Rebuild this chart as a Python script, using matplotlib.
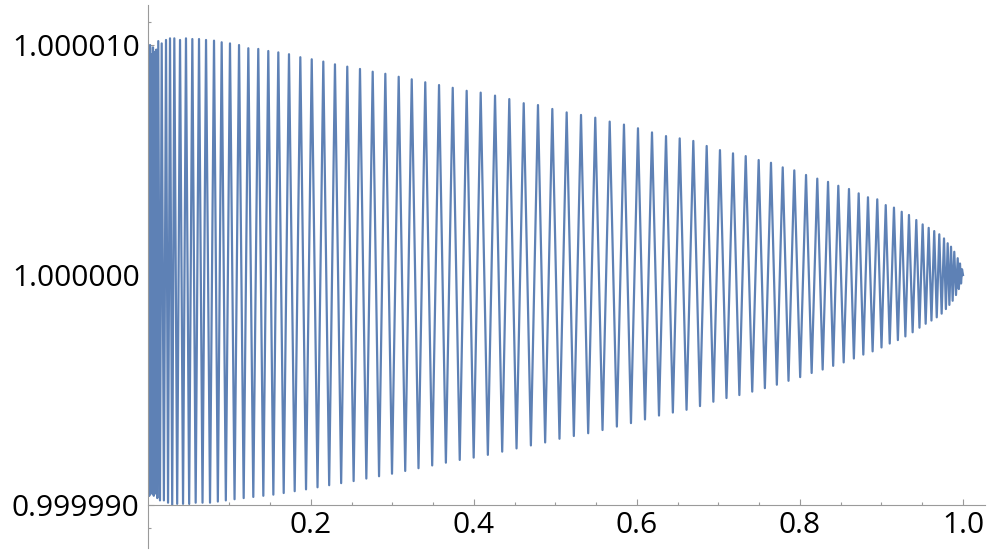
import numpy as np
from matplotlib import pyplot as plt
from matplotlib.ticker import FixedLocator, FuncFormatter

# x positions of the local maxima and minima
max_x = [0.0006, 0.0025, 0.0043, 0.0061, 0.0080, 0.0102, 0.0126, 0.0168, 0.0221, 0.0270,
         0.0323, 0.0393, 0.0466, 0.0544, 0.0626, 0.0712, 0.0810, 0.0904, 0.1006, 0.1117,
         0.1231, 0.1353, 0.1476, 0.1599, 0.1730, 0.1869, 0.2009, 0.2151, 0.2294, 0.2445,
         0.2601, 0.2757, 0.2912, 0.3076, 0.3236, 0.3402, 0.3571, 0.3739, 0.3910, 0.4082,
         0.4258, 0.4433, 0.4610, 0.4785, 0.4961, 0.5137, 0.5313, 0.5488, 0.5665, 0.5840,
         0.6012, 0.6184, 0.6356, 0.6524, 0.6691, 0.6855, 0.7018, 0.7178, 0.7334, 0.7493,
         0.7644, 0.7788, 0.7930, 0.8074, 0.8212, 0.8344, 0.8470, 0.8601, 0.8720, 0.8834,
         0.8948, 0.9052, 0.9153, 0.9248, 0.9337, 0.9427, 0.9505, 0.9579, 0.9647, 0.9709,
         0.9767, 0.9812, 0.9853, 0.9893, 0.9935, 0.9963, 0.9988]
# height of each maximum above 1, in units of 1e-5
max_amp = [0.97, 1.00, 0.96, 0.99, 0.97, 0.98, 1.017, 1.007, 1.022, 1.029,
           1.029, 1.022, 1.029, 1.026, 1.026, 1.022, 1.019, 1.012, 1.007, 1.000,
           0.986, 0.983, 0.974, 0.968, 0.960, 0.947, 0.938, 0.928, 0.916, 0.906,
           0.896, 0.884, 0.875, 0.862, 0.851, 0.838, 0.826, 0.814, 0.801, 0.793,
           0.780, 0.765, 0.747, 0.739, 0.722, 0.707, 0.696, 0.684, 0.667, 0.654,
           0.638, 0.620, 0.604, 0.594, 0.583, 0.561, 0.543, 0.529, 0.517, 0.500,
           0.488, 0.468, 0.455, 0.435, 0.419, 0.405, 0.388, 0.374, 0.355, 0.338,
           0.329, 0.304, 0.293, 0.275, 0.261, 0.239, 0.220, 0.205, 0.191, 0.177,
           0.159, 0.138, 0.123, 0.101, 0.073, 0.050, 0.025]

min_x = [0.0000, 0.0016, 0.0034, 0.0052, 0.0071, 0.0091, 0.0114, 0.0147, 0.0195, 0.0246,
         0.0297, 0.0358, 0.0430, 0.0505, 0.0585, 0.0669, 0.0761, 0.0857, 0.0955, 0.1062,
         0.1174, 0.1292, 0.1415, 0.1538, 0.1665, 0.1800, 0.1939, 0.2080, 0.2223, 0.2370,
         0.2523, 0.2679, 0.2835, 0.2994, 0.3156, 0.3319, 0.3487, 0.3655, 0.3825, 0.3996,
         0.4170, 0.4346, 0.4522, 0.4698, 0.4873, 0.5049, 0.5225, 0.5401, 0.5577, 0.5753,
         0.5926, 0.6098, 0.6270, 0.6440, 0.6608, 0.6773, 0.6937, 0.7098, 0.7256, 0.7414,
         0.7569, 0.7716, 0.7859, 0.8002, 0.8143, 0.8278, 0.8407, 0.8536, 0.8661, 0.8777,
         0.8891, 0.9000, 0.9101, 0.9201, 0.9293, 0.9382, 0.9466, 0.9542, 0.9613, 0.9678,
         0.9738, 0.9790, 0.9833, 0.9873, 0.9914, 0.9949, 0.9976, 1.0000]
# depth of each minimum below 1, in units of 1e-5
min_amp = [0.96, 0.96, 0.95, 0.95, 0.96, 0.95, 0.97, 0.98, 0.98, 0.99,
           1.00, 0.995, 0.995, 0.995, 0.99, 0.99, 0.99, 0.985, 0.98, 0.975,
           0.97, 0.965, 0.96, 0.955, 0.948, 0.940, 0.932, 0.923, 0.914, 0.905,
           0.896, 0.885, 0.875, 0.864, 0.852, 0.840, 0.828, 0.816, 0.804, 0.794,
           0.782, 0.768, 0.754, 0.741, 0.728, 0.712, 0.700, 0.688, 0.674, 0.659,
           0.644, 0.628, 0.611, 0.598, 0.586, 0.570, 0.551, 0.535, 0.522, 0.507,
           0.492, 0.477, 0.460, 0.444, 0.426, 0.411, 0.395, 0.380, 0.363, 0.346,
           0.332, 0.315, 0.298, 0.283, 0.267, 0.249, 0.229, 0.212, 0.198, 0.184,
           0.168, 0.148, 0.130, 0.112, 0.087, 0.061, 0.037, 0.0]

xticks = [0.2, 0.4, 0.6, 0.8, 1.0]
yticks = [0.99999, 1.0, 1.00001]

# alternate minimum / maximum
xs = []
ys = []
for i in range(len(max_x)):
    xs.append(min_x[i])
    ys.append(1 - min_amp[i] * 1e-5)
    xs.append(max_x[i])
    ys.append(1 + max_amp[i] * 1e-5)
xs.append(min_x[-1])
ys.append(1 - min_amp[-1] * 1e-5)

plt.rcParams['font.family'] = ['Open Sans', 'DejaVu Sans']

fig = plt.figure(figsize=(10.04, 5.58), dpi=100)
ax = fig.add_axes([148 / 1004, 10 / 558, 837 / 1004, 543 / 558])
ax.plot(xs, ys, color='#5E81B5', lw=1.6, solid_joinstyle='round')

ax.set_xlim(0, 1.027)
ax.set_ylim(1 - 1.187e-5, 1 + 1.174e-5)

axcol = '#9a9a9a'
for s in ['top', 'right']:
    ax.spines[s].set_visible(False)
ax.spines['bottom'].set_position(('data', 0.99999))
ax.spines['left'].set_color(axcol)
ax.spines['bottom'].set_color(axcol)

ax.xaxis.set_major_locator(FixedLocator(xticks))
ax.xaxis.set_minor_locator(FixedLocator([i * 0.05 for i in range(1, 21)]))
ax.yaxis.set_major_locator(FixedLocator(yticks))
ax.yaxis.set_minor_locator(FixedLocator([1 + k * 1e-6 for k in range(-11, 12)]))
ax.xaxis.set_major_formatter(FuncFormatter(lambda v, p: '%.1f' % v))
ax.yaxis.set_major_formatter(FuncFormatter(lambda v, p: '%.6f' % v))

ax.tick_params(which='both', direction='in', color=axcol, labelsize=21.5, labelcolor='black')
ax.tick_params(which='major', length=4.5, width=0.8)
ax.tick_params(which='minor', length=2.5, width=0.8)
ax.tick_params(axis='x', pad=4)
ax.tick_params(axis='y', pad=6)

plt.savefig('out.png', dpi=100)
